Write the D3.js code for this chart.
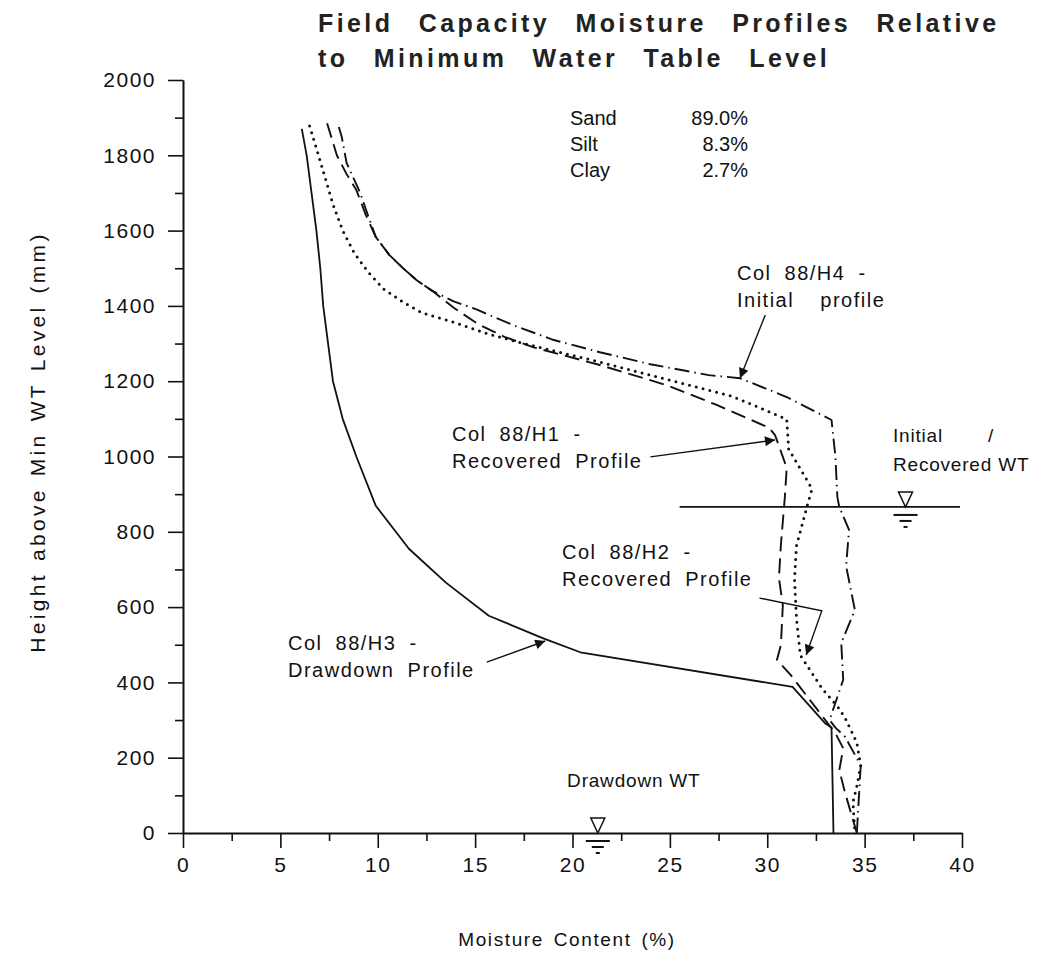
<!DOCTYPE html>
<meta charset="utf-8">
<style>
body { margin: 0; background: #fff; }
svg { font-family: "Liberation Sans", Arial, Helvetica, sans-serif; }
.axis path, .axis line { stroke: #111; }
.axis text { font-size: 21px; fill: #111; letter-spacing: 1.5px; font-family: "Liberation Sans", Arial, sans-serif; }
.note { font-size: 20px; fill: #111; letter-spacing: 1.5px; word-spacing: 6px; white-space: pre; }
.wt { font-size: 19px; fill: #111; letter-spacing: 0.8px; white-space: pre; }
.soil { font-family: "Liberation Sans Narrow", "Liberation Sans", Arial, sans-serif; font-size: 20px; fill: #111; }
</style>
<body>
<script src="https://d3js.org/d3.v7.min.js"></script>
<script>
var width = 1044, height = 967;

// moisture (%), height above min WT (mm)
var h3Drawdown = [
  [6.1,1870],[6.35,1800],[6.6,1700],[6.85,1600],[7.05,1500],[7.2,1400],[7.45,1300],
  [7.7,1200],[8.2,1100],[8.9,1000],[9.9,869],[11.6,755],[13.5,665],[15.7,577],
  [18.5,517],[20.4,480],[31.3,388],[33.0,290],[33.3,280],[33.4,0]
];
var h4Initial = [
  [8.0,1875],[8.15,1849],[8.4,1780],[8.75,1740],[9.1,1700],[9.5,1640],[9.9,1583],
  [10.6,1535],[11.3,1500],[12.0,1468],[12.8,1440],[13.9,1412],[15.1,1390],[16.9,1350],
  [19.0,1310],[21.4,1277],[24.0,1245],[27.0,1216],[28.6,1208],[31.0,1158],[33.3,1097],
  [33.5,1000],[33.6,892],[33.7,866],[34.2,805],[34.05,709],[34.5,592],[33.8,505],
  [33.9,407],[33.2,300],[33.5,280],[34.0,255],[34.8,180],[34.6,0]
];
var h1Recovered = [
  [7.4,1885],[7.9,1800],[8.4,1750],[8.9,1708],[9.4,1640],[9.9,1583],[10.6,1535],
  [11.3,1500],[12.0,1468],[12.8,1440],[13.9,1395],[15.2,1350],[16.5,1318],[18.0,1290],
  [21.4,1243],[24.8,1190],[27.4,1137],[30.1,1076],[30.4,1057],[31.0,970],
  [30.9,890],[30.7,765],[30.6,677],[30.8,605],[30.7,499],[30.5,460],[31.2,420],
  [33.5,265],[33.9,225],[33.7,167],[34.0,106],[34.6,0]
];
var h2Recovered = [
  [6.5,1878],[6.9,1810],[7.3,1740],[7.7,1670],[8.2,1600],[8.8,1540],[9.5,1490],
  [10.3,1445],[11.3,1410],[12.3,1381],[14.05,1354],[15.7,1325],[17.5,1300],[21.4,1251],
  [24.8,1205],[28.2,1160],[31.0,1099],[31.1,1020],[32.3,914],[32.05,869],[31.5,763],
  [31.4,675],[31.5,570],[31.7,472],[32.8,385],[33.7,330],[34.05,300],[34.6,240],
  [34.8,178],[34.6,124],[34.4,82],[34.5,0]
];

var soilNames = ["Sand", "Silt", "Clay"];
var soilPct = ["89.0%", "8.3%", "2.7%"];

var xTicks = d3.range(0, 41, 5);
var xMinor = d3.range(2.5, 40, 5);
var yTicks = d3.range(0, 2001, 200);
var yMinor = d3.range(100, 2000, 200);

var recoveredWT = 866, recoveredWTFrom = 25.5, recoveredWTTo = 39.9;
var recoveredWTMark = 37.1, drawdownWTMark = 21.3;

var svg = d3.select("body").append("svg")
  .attr("width", width).attr("height", height);

var x = d3.scaleLinear().domain([0, 40]).range([183, 962]);
var y = d3.scaleLinear().domain([0, 2000]).range([833, 80]);

svg.append("defs").append("marker")
  .attr("id", "head")
  .attr("viewBox", "0 0 10 10")
  .attr("refX", 10).attr("refY", 5)
  .attr("markerWidth", 16).attr("markerHeight", 10)
  .attr("markerUnits", "userSpaceOnUse")
  .attr("orient", "auto")
  .append("path").attr("d", "M0,0L10,5L0,10Z").attr("fill", "#111");

// title
var title = svg.append("text")
  .attr("font-size", 25).attr("font-weight", "bold")
  .attr("letter-spacing", 3.4).attr("word-spacing", 15).attr("fill", "#222");
title.append("tspan").attr("x", 318).attr("y", 32).text("Field Capacity Moisture Profiles Relative");
title.append("tspan").attr("x", 318).attr("y", 67).text("to Minimum Water Table Level");

// soil composition
soilNames.forEach(function(n, i) {
  svg.append("text").attr("class", "soil").attr("x", 570).attr("y", 125 + i * 26).text(n);
  svg.append("text").attr("class", "soil").attr("x", 748).attr("y", 125 + i * 26)
    .attr("text-anchor", "end").text(soilPct[i]);
});

// axes
var xAxis = svg.append("g").attr("class", "axis")
  .attr("transform", "translate(0," + y(0) + ")")
  .call(d3.axisBottom(x).tickValues(xTicks).tickSize(15).tickPadding(6).tickSizeOuter(0));
xAxis.select(".domain").attr("stroke-width", 2);
xAxis.selectAll(".tick line").attr("stroke-width", 1.6);
xAxis.selectAll(".tick text").attr("dy", "0.85em");
svg.append("g").attr("class", "axis")
  .attr("transform", "translate(0," + y(0) + ")")
  .call(d3.axisBottom(x).tickValues(xMinor).tickSize(8).tickFormat("").tickSizeOuter(0))
  .selectAll("line").attr("stroke-width", 1.6);

var yAxis = svg.append("g").attr("class", "axis")
  .attr("transform", "translate(" + x(0) + ",0)")
  .call(d3.axisLeft(y).tickValues(yTicks).tickFormat(d3.format("d"))
    .tickSize(15).tickPadding(12).tickSizeOuter(0));
yAxis.select(".domain").attr("stroke-width", 2);
yAxis.selectAll(".tick line").attr("stroke-width", 1.6);
svg.append("g").attr("class", "axis")
  .attr("transform", "translate(" + x(0) + ",0)")
  .call(d3.axisLeft(y).tickValues(yMinor).tickSize(8).tickFormat("").tickSizeOuter(0))
  .selectAll("line").attr("stroke-width", 1.6);

svg.append("text")
  .attr("transform", "translate(45,442) rotate(-90)")
  .attr("text-anchor", "middle").attr("font-size", 21).attr("letter-spacing", 3.3)
  .attr("word-spacing", 2).attr("fill", "#111")
  .text("Height above Min WT Level (mm)");

svg.append("text")
  .attr("x", 567).attr("y", 946)
  .attr("text-anchor", "middle").attr("font-size", 19).attr("letter-spacing", 1.6)
  .attr("word-spacing", 3).attr("fill", "#111")
  .text("Moisture Content (%)");

// profiles
var line = d3.line().x(function(d) { return x(d[0]); }).y(function(d) { return y(d[1]); });
var series = [
  { data: h3Drawdown, dash: null, w: 1.8, cap: "butt" },
  { data: h4Initial, dash: "15,5,1.5,5", w: 1.9, cap: "butt" },
  { data: h1Recovered, dash: "15,7", w: 1.9, cap: "butt" },
  { data: h2Recovered, dash: "0,7", w: 3, cap: "round" }
];
svg.append("g").selectAll("path").data(series).join("path")
  .attr("d", function(d) { return line(d.data); })
  .attr("fill", "none").attr("stroke", "#111")
  .attr("stroke-width", function(d) { return d.w; })
  .attr("stroke-dasharray", function(d) { return d.dash; })
  .attr("stroke-linecap", function(d) { return d.cap; })
  .attr("stroke-linejoin", "round");

// water table symbols
function wtSymbol(cx, cy) {
  var g = svg.append("g").attr("stroke", "#111").attr("fill", "none").attr("stroke-width", 1.5);
  g.append("path").attr("d", "M" + (cx - 7) + "," + (cy - 15) + "L" + (cx + 7) + "," + (cy - 15) + "L" + cx + "," + cy + "Z")
    .attr("fill", "#fff");
  g.append("line").attr("x1", cx - 12).attr("x2", cx + 12).attr("y1", cy + 8).attr("y2", cy + 8).attr("stroke-width", 2);
  g.append("line").attr("x1", cx - 6).attr("x2", cx + 6).attr("y1", cy + 14).attr("y2", cy + 14).attr("stroke-width", 2);
  g.append("line").attr("x1", cx - 2).attr("x2", cx + 2).attr("y1", cy + 20).attr("y2", cy + 20).attr("stroke-width", 2);
}
svg.append("line")
  .attr("x1", x(recoveredWTFrom)).attr("x2", x(recoveredWTTo))
  .attr("y1", y(recoveredWT)).attr("y2", y(recoveredWT))
  .attr("stroke", "#111").attr("stroke-width", 1.8);
wtSymbol(x(recoveredWTMark), y(recoveredWT));
wtSymbol(x(drawdownWTMark), y(0));

// annotations (arrow paths in data units)
var notes = [
  { lines: ["Col 88/H4 -", "Initial  profile"], tx: 737, ty: 280, arrow: [[29.9,1376],[28.6,1208]] },
  { lines: ["Col 88/H1 -", "Recovered Profile"], tx: 452, ty: 441, arrow: [[24.0,999],[30.4,1044]] },
  { lines: ["Col 88/H2 -", "Recovered Profile"], tx: 562, ty: 559, arrow: [[29.6,624],[32.8,590],[32.0,473]] },
  { lines: ["Col 88/H3 -", "Drawdown Profile"], tx: 288, ty: 650, arrow: [[15.6,454],[18.6,510]] }
];
notes.forEach(function(n) {
  var t = svg.append("text").attr("class", "note");
  n.lines.forEach(function(s, i) {
    t.append("tspan").attr("x", n.tx).attr("y", n.ty + i * 27).text(s);
  });
  svg.append("path").attr("d", line(n.arrow))
    .attr("fill", "none").attr("stroke", "#111").attr("stroke-width", 1.4)
    .attr("marker-end", "url(#head)");
});

var wtText = svg.append("text").attr("class", "wt").attr("y", 442);
wtText.append("tspan").attr("x", 893).text("Initial");
wtText.append("tspan").attr("x", 988).text("/");
svg.append("text").attr("class", "wt").attr("x", 893).attr("y", 471).text("Recovered WT");
svg.append("text").attr("class", "wt").attr("x", x(drawdownWTMark) + 36).attr("y", y(0) - 46)
  .attr("text-anchor", "middle").text("Drawdown WT");
</script>
</body>
